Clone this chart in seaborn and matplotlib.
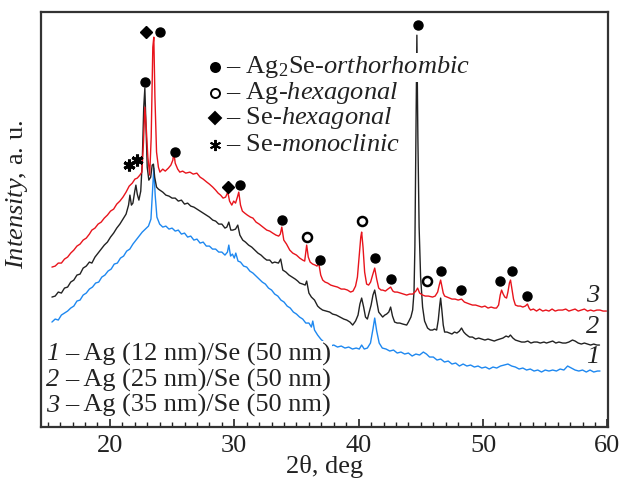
import numpy as np
import pandas as pd
import matplotlib
matplotlib.use('Agg')
import matplotlib.pyplot as plt
from matplotlib.ticker import MultipleLocator
import seaborn as sns

# ==============================================================================
# DATA (2theta in deg, intensity in a. u.)
# ==============================================================================
x1 = [15.34, 15.6, 15.85, 16.1, 16.35, 16.6, 16.85, 17.1, 17.35, 17.6, 17.85, 18.1, 18.35, 18.6, 18.85,
      19.1, 19.35, 19.6, 19.85, 20.1, 20.35, 20.6, 20.85, 21.1, 21.35, 21.6, 21.85, 22.1, 22.35, 22.6,
      22.85, 23.1, 23.3, 23.42, 23.53, 23.64, 23.78, 24.0, 24.25, 24.5, 24.75, 25.0, 25.25, 25.5, 25.75,
      26.0, 26.25, 26.5, 26.75, 27.0, 27.25, 27.5, 27.75, 28.0, 28.25, 28.5, 28.75, 29.0, 29.25, 29.45,
      29.56, 29.7, 29.85, 30.0, 30.12, 30.3, 30.5, 30.75, 31.0, 31.25, 31.5, 31.75, 32.0, 32.25, 32.5,
      32.75, 33.0, 33.25, 33.5, 33.75, 34.0, 34.25, 34.5, 34.75, 35.0, 35.25, 35.5, 35.75, 36.0, 36.2,
      36.31, 36.45, 36.7, 36.95, 37.2, 37.45, 37.7, 38.0, 38.3, 38.6, 38.9, 39.2, 39.5, 39.8, 40.05,
      40.24, 40.45, 40.7, 40.95, 41.15, 41.29, 41.45, 41.65, 41.9, 42.2, 42.5, 42.8, 43.1, 43.4, 43.7,
      44.0, 44.3, 44.6, 44.9, 45.2, 45.45, 45.7, 46.0, 46.3, 46.6, 46.9, 47.2, 47.5, 47.8, 48.1,
      48.4, 48.7, 49.0, 49.3, 49.6, 49.9, 50.2, 50.5, 50.8, 51.1, 51.4, 51.7, 52.0, 52.3, 52.6,
      52.9, 53.2, 53.5, 53.8, 54.1, 54.4, 54.7, 55.0, 55.3, 55.6, 55.9, 56.2, 56.5, 56.8, 57.1,
      57.4, 57.7, 58.0, 58.3, 58.6, 58.9, 59.2, 59.4]
y1 = [105, 108, 107, 112, 114, 116, 119, 121, 126, 127, 132, 134, 138, 140, 144,
      145, 150, 152, 156, 158, 163, 164, 169, 171, 176, 178, 183, 187, 191, 195,
      198, 201, 208, 235, 259, 232, 210, 203, 200, 201, 198, 199, 196, 197, 193,
      194, 190, 191, 187, 188, 184, 185, 181, 181, 178, 178, 175, 175, 172, 175,
      182, 171, 173, 169, 174, 166, 165, 161, 160, 156, 154, 151, 148, 145, 143,
      139, 137, 133, 131, 127, 125, 121, 119, 115, 113, 110, 108, 104, 104, 100,
      106, 97, 92, 88, 85, 83, 81, 82, 80, 81, 79, 80, 78, 79, 78,
      82, 78, 79, 84, 98, 109, 96, 84, 79, 78, 76, 77, 74, 75, 73,
      74, 71, 73, 72, 75, 73, 70, 70, 67, 68, 65, 66, 63, 64, 61,
      63, 61, 62, 60, 61, 59, 60, 58, 60, 59, 61, 62, 63, 61, 60,
      58, 59, 57, 58, 56, 57, 55, 57, 56, 57, 56, 58, 57, 61, 59,
      57, 56, 57, 55, 57, 55, 56, 56]

x2 = [15.34, 15.6, 15.85, 16.1, 16.35, 16.6, 16.85, 17.1, 17.35, 17.6, 17.85, 18.1, 18.35, 18.55, 18.8,
      19.05, 19.3, 19.55, 19.8, 20.05, 20.3, 20.55, 20.8, 21.05, 21.3, 21.5, 21.61, 21.73, 21.85, 22.0,
      22.09, 22.2, 22.33, 22.48, 22.6, 22.72, 22.81, 22.9, 23.0, 23.13, 23.28, 23.4, 23.5, 23.6, 23.75,
      23.9, 24.02, 24.25, 24.5, 24.75, 25.0, 25.25, 25.5, 25.75, 26.0, 26.25, 26.5, 26.75, 27.0, 27.25,
      27.5, 27.75, 28.0, 28.27, 28.5, 28.75, 29.0, 29.25, 29.4, 29.56, 29.72, 29.88, 30.1, 30.28, 30.45,
      30.68, 30.9, 31.15, 31.4, 31.65, 31.9, 32.15, 32.4, 32.61, 32.85, 33.05, 33.25, 33.55, 33.73, 33.9,
      34.15, 34.4, 34.65, 34.9, 35.1, 35.26, 35.5, 35.7, 35.82, 36.0, 36.2, 36.45, 36.7, 36.87, 37.1,
      37.4, 37.67, 37.9, 38.2, 38.5, 38.8, 39.04, 39.3, 39.52, 39.75, 39.95, 40.1, 40.24, 40.4, 40.55,
      40.7, 40.85, 41.0, 41.15, 41.29, 41.45, 41.61, 41.8, 41.93, 42.1, 42.25, 42.42, 42.57, 42.72, 42.89,
      43.1, 43.3, 43.55, 43.86, 44.0, 44.2, 44.34, 44.45, 44.52, 44.6, 44.68, 44.76, 44.86, 44.98, 45.14,
      45.3, 45.54, 45.75, 45.94, 46.1, 46.27, 46.4, 46.52, 46.59, 46.68, 46.8, 46.91, 47.1, 47.31, 47.5,
      47.7, 47.9, 48.1, 48.27, 48.45, 48.6, 48.8, 48.92, 49.15, 49.4, 49.65, 49.9, 50.15, 50.4, 50.65,
      50.9, 51.1, 51.35, 51.6, 51.85, 52.05, 52.2, 52.4, 52.6, 52.85, 53.1, 53.35, 53.6, 53.85, 54.1,
      54.35, 54.6, 54.9, 55.1, 55.35, 55.6, 55.85, 56.1, 56.4, 56.65, 56.9, 57.19, 57.4, 57.65, 57.9,
      58.15, 58.4, 58.65, 58.9, 59.15, 59.36]
y2 = [130, 131, 135, 134, 139, 140, 145, 147, 152, 153, 159, 161, 165, 164, 170,
      174, 178, 182, 185, 190, 194, 199, 203, 208, 213, 222, 232, 222, 224, 236,
      242, 233, 227, 236, 265, 320, 339, 300, 260, 247, 250, 262, 263, 250, 240,
      238, 237, 235, 232, 231, 229, 229, 226, 227, 223, 224, 221, 220, 218, 216,
      214, 212, 210, 207, 206, 203, 203, 199, 200, 205, 197, 197, 198, 202, 192,
      187, 185, 182, 180, 177, 174, 172, 169, 167, 167, 164, 165, 164, 168, 157,
      155, 152, 150, 148, 146, 144, 143, 142, 146, 134, 130, 127, 121, 119, 117,
      116, 115, 113, 112, 110, 108, 107, 105, 102, 106, 112, 123, 129, 120, 110,
      108, 115, 122, 132, 137, 126, 115, 112, 110, 112, 113, 115, 120, 111, 105,
      104, 104, 103, 102, 105, 110, 117, 135, 180, 290, 392, 290, 200, 150, 120,
      106, 99, 97, 97, 98, 97, 107, 122, 129, 118, 102, 95, 95, 94, 93,
      95, 94, 96, 99, 95, 93, 91, 90, 90, 88, 89, 88, 87, 88, 87,
      86, 87, 88, 89, 91, 90, 92, 89, 87, 86, 85, 85, 86, 84, 85,
      85, 84, 85, 84, 85, 86, 84, 85, 84, 84, 85, 87, 86, 84, 83,
      84, 83, 82, 83, 82, 82]

x3 = [15.34, 15.6, 15.85, 16.1, 16.35, 16.6, 16.85, 17.1, 17.35, 17.6, 17.85, 18.1, 18.35, 18.55, 18.8,
      19.05, 19.3, 19.55, 19.8, 20.05, 20.3, 20.55, 20.8, 21.05, 21.3, 21.55, 21.8, 22.01, 22.2, 22.41,
      22.57, 22.7, 22.81, 22.92, 23.05, 23.2, 23.32, 23.45, 23.53, 23.62, 23.75, 23.9, 24.02, 24.25, 24.45,
      24.7, 24.9, 25.06, 25.14, 25.25, 25.45, 25.62, 25.85, 26.1, 26.43, 26.7, 26.99, 27.25, 27.5, 27.79,
      28.0, 28.27, 28.5, 28.7, 28.9, 29.1, 29.3, 29.48, 29.62, 29.8, 29.95, 30.1, 30.25, 30.36, 30.5,
      30.65, 30.84, 31.05, 31.3, 31.5, 31.75, 32.0, 32.3, 32.61, 32.85, 33.09, 33.35, 33.57, 33.7, 33.82,
      33.98, 34.2, 34.46, 34.7, 35.0, 35.26, 35.5, 35.66, 35.75, 35.82, 35.95, 36.1, 36.3, 36.5, 36.65,
      36.79, 36.95, 37.11, 37.3, 37.51, 37.75, 38.0, 38.3, 38.6, 38.85, 39.1, 39.35, 39.55, 39.75, 39.9,
      40.05, 40.17, 40.24, 40.35, 40.48, 40.64, 40.8, 40.96, 41.12, 41.29, 41.45, 41.61, 41.8, 41.93, 42.15,
      42.35, 42.57, 42.75, 42.89, 43.1, 43.35, 43.6, 43.86, 44.1, 44.35, 44.6, 44.74, 44.9, 45.14, 45.35,
      45.6, 45.94, 46.15, 46.35, 46.48, 46.59, 46.7, 46.8, 46.91, 47.1, 47.31, 47.5, 47.75, 48.0, 48.27,
      48.5, 48.7, 48.92, 49.15, 49.4, 49.65, 49.9, 50.15, 50.4, 50.65, 50.9, 51.08, 51.25, 51.38, 51.49,
      51.62, 51.75, 51.89, 52.0, 52.12, 52.21, 52.32, 52.45, 52.6, 52.8, 53.0, 53.2, 53.4, 53.57, 53.7,
      53.82, 54.05, 54.3, 54.55, 54.8, 55.05, 55.3, 55.55, 55.8, 56.05, 56.39, 56.65, 56.9, 57.15, 57.4,
      57.65, 57.9, 58.15, 58.4, 58.65, 58.9, 59.15, 59.4, 59.65, 59.92]
y3 = [160, 161, 164, 164, 168, 170, 174, 177, 181, 183, 187, 189, 193, 197, 199,
      203, 205, 209, 212, 216, 218, 223, 226, 230, 235, 241, 244, 248, 249, 252,
      255, 285, 320, 300, 270, 252, 290, 380, 390, 330, 275, 260, 255, 258, 256,
      259, 262, 267, 275, 264, 258, 255, 256, 254, 255, 253, 254, 250, 248, 245,
      243, 240, 237, 234, 232, 229, 230, 235, 226, 222, 226, 224, 230, 235, 222,
      216, 214, 212, 210, 209, 205, 203, 200, 197, 196, 194, 192, 191, 193, 200,
      187, 183, 177, 174, 172, 169, 167, 166, 175, 182, 170, 165, 163, 162, 161,
      164, 152, 147, 145, 144, 142, 141, 140, 138, 138, 137, 135, 136, 141, 150,
      172, 190, 195, 180, 155, 143, 142, 145, 152, 159, 148, 139, 137, 137, 136,
      138, 140, 136, 135, 135, 134, 133, 132, 133, 133, 136, 139, 134, 132, 131,
      131, 130, 131, 135, 142, 147, 140, 134, 131, 130, 129, 128, 128, 127, 128,
      125, 124, 123, 122, 122, 121, 120, 121, 119, 120, 119, 119, 122, 132, 137,
      133, 130, 129, 135, 144, 147, 138, 128, 122, 121, 121, 120, 121, 123, 119,
      117, 118, 116, 118, 116, 117, 116, 118, 116, 117, 117, 118, 116, 117, 118,
      116, 117, 118, 116, 117, 116, 117, 117, 116, 116]

# peak labels (phase markers)
ortho_x = [22.81, 24.02, 25.22, 30.44, 33.82, 36.87, 41.29, 42.57, 44.74, 46.59, 48.2, 51.4, 52.29, 53.5]
ortho_y = [345, 395, 275, 242, 207, 167, 169, 148, 402, 156, 137, 146, 156, 131]
aghex_x = [35.82, 40.24, 45.46]
aghex_y = [190, 206, 146]
sehex_x = [22.89, 29.48]
sehex_y = [395, 240]
semono_x = [21.55, 22.15]
semono_y = [262, 267]

curve_ids = ['1', '2', '3']
curve_labels = ['– Ag (12 nm)/Se (50 nm)', '– Ag (25 nm)/Se (50 nm)', '– Ag (35 nm)/Se (50 nm)']
label_y = [70, 100, 131]

colors = {'1': '#1e88f0', '2': '#222222', '3': '#e8141c'}

df = pd.concat([
    pd.DataFrame({'theta': x1, 'I': y1, 'curve': '1'}),
    pd.DataFrame({'theta': x2, 'I': y2, 'curve': '2'}),
    pd.DataFrame({'theta': x3, 'I': y3, 'curve': '3'}),
], ignore_index=True)

# ==============================================================================
# PLOT
# ==============================================================================
sns.set_theme(style='white')
plt.rcParams['font.family'] = ['Liberation Serif', 'DejaVu Serif']
plt.rcParams['mathtext.fontset'] = 'custom'
plt.rcParams['mathtext.rm'] = 'Liberation Serif'
plt.rcParams['mathtext.it'] = 'Liberation Serif:italic'

FS = 19
TXT = '#222222'

fig = plt.figure(figsize=(6.23, 4.88), dpi=100)
ax = fig.add_axes([0.0666, 0.125, 0.9094, 0.85])

for c in curve_ids:
    sns.lineplot(data=df[df['curve'] == c], x='theta', y='I', color=colors[c], lw=1.0,
                 estimator=None, sort=False, ax=ax, legend=False)

ax.plot(ortho_x, ortho_y, 'o', color='black', ms=6.5, ls='none')
ax.plot(aghex_x, aghex_y, 'o', mfc='white', mec='black', mew=1.8, ms=6.5, ls='none')
ax.plot(sehex_x, sehex_y, 'D', color='black', ms=6.5, ls='none')
ax.plot(semono_x, semono_y, marker=(6, 2, 0), color='black', ms=8.5, mew=2.2, ls='none')

# curve numbers on the right
for c, ly in zip(curve_ids, label_y):
    ax.text(58.8, ly, c, fontsize=FS, style='italic', ha='center', va='center', color=TXT)

# phase legend (top)
leg_rows = [
    ('o', 'black', r'– Ag$_2$Se-$\mathit{orthorhombic}$'),
    ('o', 'white', r'– Ag-$\mathit{hexagonal}$'),
    ('D', 'black', r'– Se-$\mathit{hexagonal}$'),
    ((6, 2, 0), 'black', r'– Se-$\mathit{monoclinic}$'),
]
leg_y = [0.867, 0.805, 0.745, 0.68]
for (mk, fc, txt), yy in zip(leg_rows, leg_y):
    if mk == (6, 2, 0):
        ax.plot([0.306], [yy], marker=mk, color='black', ms=8, mew=1.4, transform=ax.transAxes, ls='none')
    else:
        ax.plot([0.306], [yy], marker=mk, mfc=fc, mec='black', mew=1.4, ms=6.5,
                transform=ax.transAxes, ls='none')
    t = ax.text(0.325, yy, txt, fontsize=FS, transform=ax.transAxes, va='center', ha='left', color=TXT)
    if yy == leg_y[0]:
        t.set_bbox(dict(facecolor='white', edgecolor='none', pad=1))

# sample legend (bottom-left)
sample_y = [0.176, 0.113, 0.051]
for c, lab, yy in zip(curve_ids, curve_labels, sample_y):
    ax.text(0.008, yy, c, fontsize=FS, style='italic', transform=ax.transAxes,
            va='center', ha='left', color=TXT)
    ax.text(0.041, yy, lab, fontsize=FS, transform=ax.transAxes,
            va='center', ha='left', color=TXT,
            bbox=dict(facecolor='white', edgecolor='none', pad=1))

ax.set_xlim(14.5, 60.05)
ax.set_ylim(0, 415)
ax.set_yticks([])
ax.xaxis.set_major_locator(MultipleLocator(10))
ax.xaxis.set_minor_locator(MultipleLocator(1))
ax.tick_params(axis='x', which='major', direction='in', length=6, width=1.2, labelsize=FS,
               bottom=True, top=False, pad=6, colors=TXT)
ax.tick_params(axis='x', which='minor', direction='in', length=3.5, width=1.0, bottom=True, top=False,
               colors=TXT)
ax.set_xlabel('2θ, deg', fontsize=FS, color=TXT, labelpad=-2)
ax.set_ylabel(r'$\mathit{Intensity}$, a. u.', fontsize=FS, color=TXT)
ax.yaxis.set_label_coords(-0.02, 0.56)
for s in ax.spines.values():
    s.set_color('#333333')
    s.set_linewidth(1.6)

plt.savefig('out.png', dpi=100)
plt.close()
